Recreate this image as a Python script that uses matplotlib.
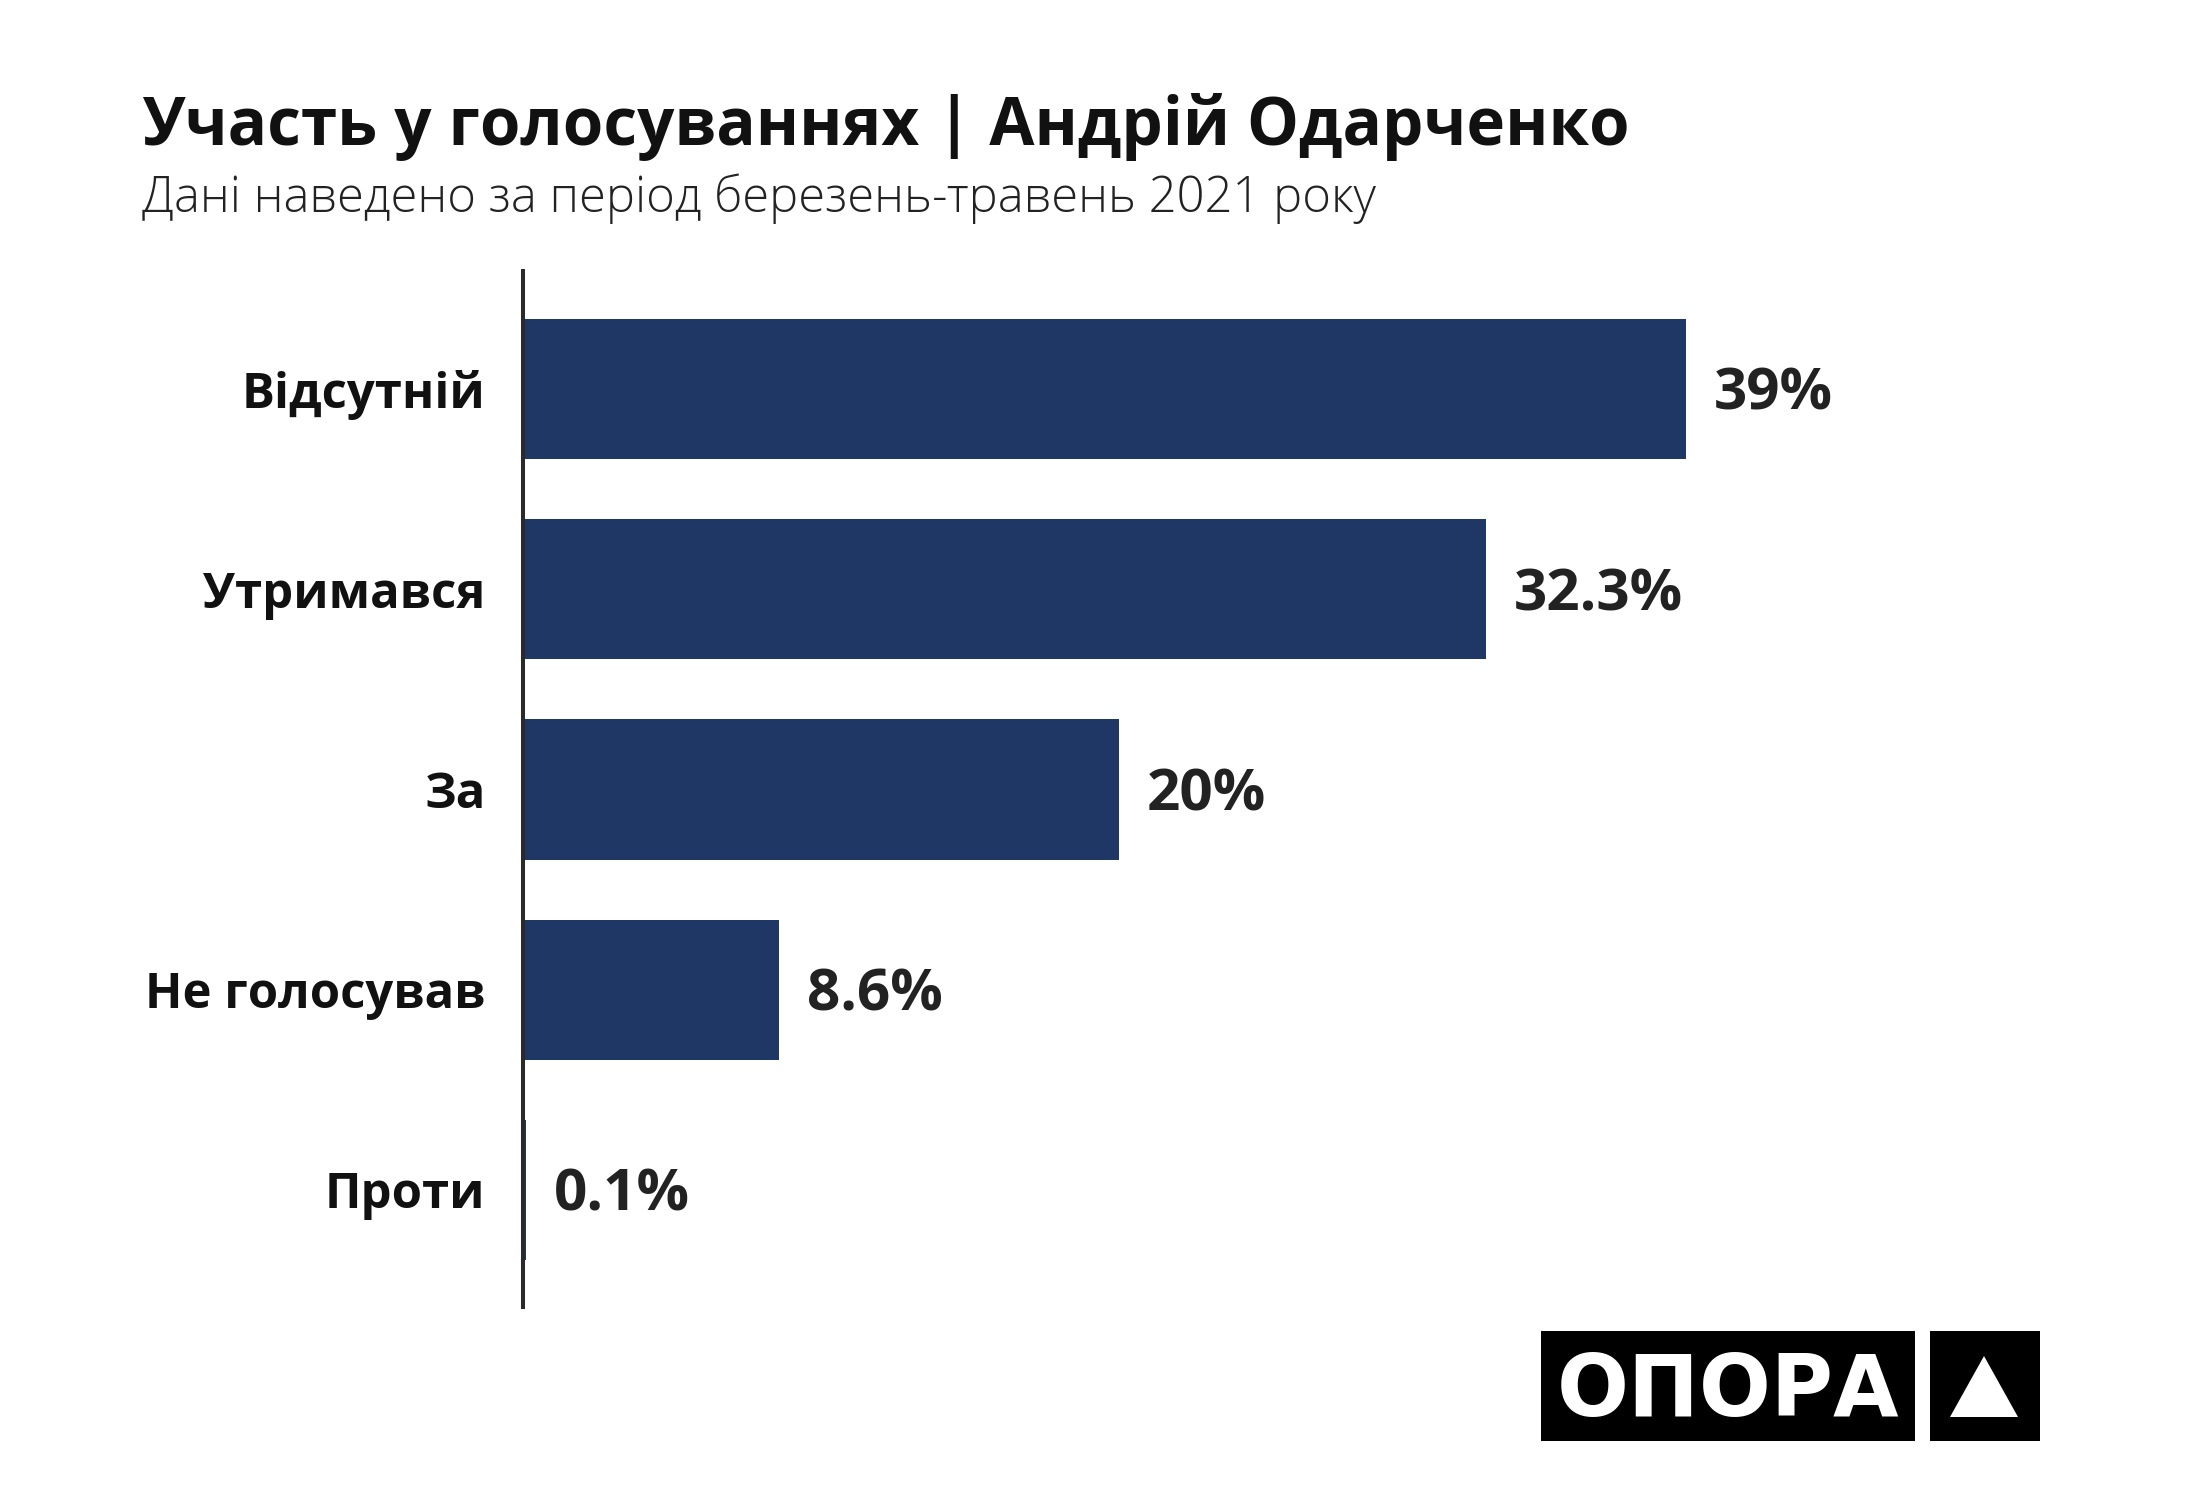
import matplotlib
matplotlib.use("Agg")
import matplotlib.pyplot as plt
from matplotlib.patches import Rectangle, Polygon

categories = ["Відсутній", "Утримався", "За", "Не голосував", "Проти"]
values = [39, 32.3, 20, 8.6, 0.1]
title = "Участь у голосуваннях | Андрій Одарченко"
subtitle = "Дані наведено за період березень-травень 2021 року"
logo_text = "ОПОРА"

W, H = 2200, 1500
DPI = 100
plt.rcParams['font.family'] = ['Open Sans', 'DejaVu Sans']

fig = plt.figure(figsize=(W / DPI, H / DPI), dpi=DPI)
fig.patch.set_facecolor("white")

px = lambda x: x / W
py = lambda y: 1 - y / H

ax_left, ax_right = 523, 1923
ax_top, ax_bottom = 271, 1307
ax = fig.add_axes([px(ax_left), py(ax_bottom), px(ax_right - ax_left), (ax_bottom - ax_top) / H])
scale = (1686 - 523) / 39.0
ax.set_xlim(0, (ax_right - ax_left) / scale)
ax.set_ylim(len(categories) - 1 + 0.585, -0.59)

bar_color = "#1e3764"
ypos = list(range(len(categories)))
ax.barh(ypos, values, height=0.7, color=bar_color, zorder=2)

val_fs = 42
cap_px = val_fs * DPI / 72 * 0.714
for y, v in zip(ypos, values):
    ax.annotate(f"{v:g}%", xy=(v, y), xytext=(20, -cap_px / 2 * 72 / DPI),
                textcoords="offset points",
                ha="left", va="baseline", fontsize=val_fs, fontweight="bold", color="#222222")

ax.set_yticks(ypos)
ax.set_yticklabels(categories, fontsize=35.3, fontweight="bold", color="#111111")
ax.tick_params(axis="y", length=0, pad=27)
ax.set_xticks([])
for s in ["top", "right", "bottom"]:
    ax.spines[s].set_visible(False)
ax.spines["left"].set_linewidth(2.9)
ax.spines["left"].set_color("#2a2a2a")
ax.spines["left"].set_zorder(3)
ax.set_facecolor("none")

fig.text(px(142), py(145), title, fontsize=47.2, fontweight="bold", color="#111111",
         ha="left", va="baseline")
fig.text(px(142), py(212), subtitle, fontsize=35.2, fontweight="light", color="#222222",
         ha="left", va="baseline")

# logo
fig.add_artist(Rectangle((px(1541), py(1441)), px(1915 - 1541), (1441 - 1331) / H,
                         transform=fig.transFigure, facecolor="black", edgecolor="none"))
fig.add_artist(Rectangle((px(1930), py(1441)), px(2040 - 1930), (1441 - 1331) / H,
                         transform=fig.transFigure, facecolor="black", edgecolor="none"))
fig.add_artist(Polygon([(px(1950), py(1417)), (px(2018), py(1417)), (px(1984), py(1356))],
                       closed=True, transform=fig.transFigure, facecolor="white", edgecolor="none"))
fig.text(px(1728), py(1416), logo_text, fontsize=61, fontweight="bold", color="white",
         ha="center", va="baseline", family=["DejaVu Sans"])

fig.savefig("out.png", dpi=DPI, facecolor="white")
